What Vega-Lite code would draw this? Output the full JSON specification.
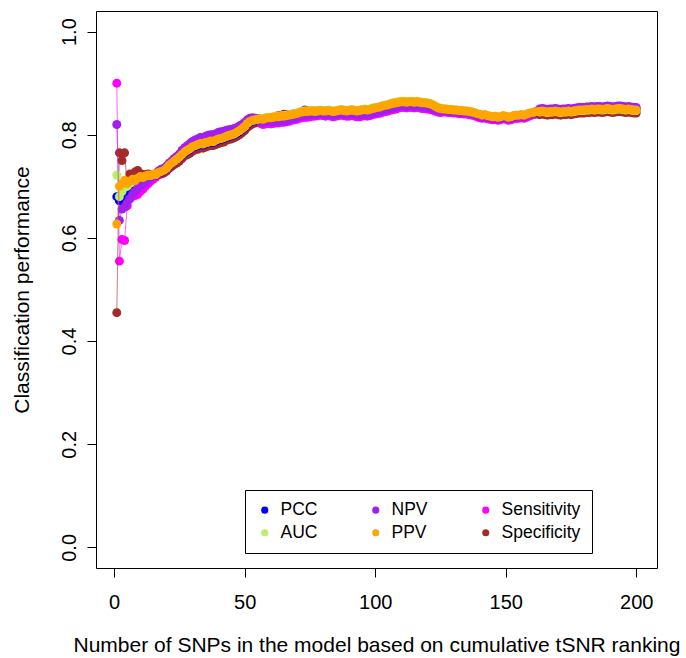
{
"$schema":"https://vega.github.io/schema/vega-lite/v6.json",
"width":561,"height":557,
"autosize":{"type":"none"},
"padding":{"left":96,"top":11,"right":29,"bottom":90},
"background":"white",
"config":{"view":{"stroke":"black","strokeWidth":1},"font":"Liberation Sans"},
"data":{"values":[
{"n":1,"PCC":0.680,"AUC":0.722,"NPV":0.820,"PPV":0.627,"Sensitivity":0.900,"Specificity":0.455},
{"n":2,"PCC":0.672,"AUC":0.680,"NPV":0.634,"PPV":0.700,"Sensitivity":0.555,"Specificity":0.765},
{"n":3,"PCC":0.676,"AUC":0.690,"NPV":0.656,"PPV":0.705,"Sensitivity":0.597,"Specificity":0.750},
{"n":4,"PCC":0.690,"AUC":0.698,"NPV":0.660,"PPV":0.712,"Sensitivity":0.595,"Specificity":0.765},
{"n":5,"PCC":0.690,"AUC":0.700,"NPV":0.668,"PPV":0.706,"Sensitivity":0.662,"Specificity":0.700},
{"n":6,"PCC":0.700,"AUC":0.706,"NPV":0.676,"PPV":0.710,"Sensitivity":0.676,"Specificity":0.724},
{"n":7,"PCC":0.703,"AUC":0.708,"NPV":0.684,"PPV":0.714,"Sensitivity":0.680,"Specificity":0.720},
{"n":8,"PCC":0.706,"AUC":0.710,"NPV":0.690,"PPV":0.711,"Sensitivity":0.682,"Specificity":0.728},
{"n":9,"PCC":0.710,"AUC":0.713,"NPV":0.696,"PPV":0.716,"Sensitivity":0.684,"Specificity":0.731},
{"n":10,"PCC":0.712,"AUC":0.716,"NPV":0.701,"PPV":0.719,"Sensitivity":0.690,"Specificity":0.725},
{"n":11,"PCC":0.713,"AUC":0.716,"NPV":0.704,"PPV":0.717,"Sensitivity":0.694,"Specificity":0.722},
{"n":12,"PCC":0.716,"AUC":0.719,"NPV":0.708,"PPV":0.720,"Sensitivity":0.700,"Specificity":0.723},
{"n":13,"PCC":0.718,"AUC":0.720,"NPV":0.712,"PPV":0.722,"Sensitivity":0.705,"Specificity":0.724},
{"n":14,"PCC":0.719,"AUC":0.721,"NPV":0.716,"PPV":0.721,"Sensitivity":0.710,"Specificity":0.722},
{"n":15,"PCC":0.722,"AUC":0.723,"NPV":0.720,"PPV":0.724,"Sensitivity":0.714,"Specificity":0.722},
{"n":16,"PCC":0.722,"AUC":0.723,"NPV":0.724,"PPV":0.723,"Sensitivity":0.718,"Specificity":0.721},
{"n":17,"PCC":0.726,"AUC":0.727,"NPV":0.730,"PPV":0.727,"Sensitivity":0.723,"Specificity":0.723},
{"n":18,"PCC":0.728,"AUC":0.729,"NPV":0.733,"PPV":0.729,"Sensitivity":0.724,"Specificity":0.725},
{"n":19,"PCC":0.730,"AUC":0.732,"NPV":0.735,"PPV":0.731,"Sensitivity":0.726,"Specificity":0.726},
{"n":20,"PCC":0.734,"AUC":0.735,"NPV":0.739,"PPV":0.735,"Sensitivity":0.729,"Specificity":0.730},
{"n":21,"PCC":0.740,"AUC":0.741,"NPV":0.745,"PPV":0.741,"Sensitivity":0.735,"Specificity":0.735},
{"n":22,"PCC":0.744,"AUC":0.746,"NPV":0.749,"PPV":0.745,"Sensitivity":0.739,"Specificity":0.739},
{"n":23,"PCC":0.748,"AUC":0.749,"NPV":0.754,"PPV":0.749,"Sensitivity":0.743,"Specificity":0.742},
{"n":24,"PCC":0.752,"AUC":0.753,"NPV":0.758,"PPV":0.753,"Sensitivity":0.746,"Specificity":0.745},
{"n":25,"PCC":0.756,"AUC":0.757,"NPV":0.763,"PPV":0.757,"Sensitivity":0.750,"Specificity":0.749},
{"n":26,"PCC":0.760,"AUC":0.762,"NPV":0.770,"PPV":0.762,"Sensitivity":0.756,"Specificity":0.754},
{"n":27,"PCC":0.765,"AUC":0.767,"NPV":0.775,"PPV":0.767,"Sensitivity":0.761,"Specificity":0.759},
{"n":28,"PCC":0.768,"AUC":0.771,"NPV":0.779,"PPV":0.770,"Sensitivity":0.764,"Specificity":0.761},
{"n":29,"PCC":0.771,"AUC":0.773,"NPV":0.783,"PPV":0.773,"Sensitivity":0.768,"Specificity":0.764},
{"n":30,"PCC":0.775,"AUC":0.777,"NPV":0.787,"PPV":0.777,"Sensitivity":0.780,"Specificity":0.768},
{"n":31,"PCC":0.777,"AUC":0.779,"NPV":0.790,"PPV":0.779,"Sensitivity":0.783,"Specificity":0.771},
{"n":32,"PCC":0.779,"AUC":0.782,"NPV":0.792,"PPV":0.781,"Sensitivity":0.785,"Specificity":0.772},
{"n":33,"PCC":0.781,"AUC":0.783,"NPV":0.795,"PPV":0.783,"Sensitivity":0.787,"Specificity":0.775},
{"n":34,"PCC":0.780,"AUC":0.783,"NPV":0.794,"PPV":0.782,"Sensitivity":0.786,"Specificity":0.774},
{"n":35,"PCC":0.783,"AUC":0.785,"NPV":0.797,"PPV":0.785,"Sensitivity":0.789,"Specificity":0.776},
{"n":36,"PCC":0.784,"AUC":0.786,"NPV":0.799,"PPV":0.786,"Sensitivity":0.790,"Specificity":0.778},
{"n":37,"PCC":0.786,"AUC":0.788,"NPV":0.800,"PPV":0.788,"Sensitivity":0.792,"Specificity":0.779},
{"n":38,"PCC":0.785,"AUC":0.787,"NPV":0.800,"PPV":0.787,"Sensitivity":0.791,"Specificity":0.779},
{"n":39,"PCC":0.788,"AUC":0.790,"NPV":0.802,"PPV":0.790,"Sensitivity":0.794,"Specificity":0.781},
{"n":40,"PCC":0.790,"AUC":0.792,"NPV":0.805,"PPV":0.792,"Sensitivity":0.796,"Specificity":0.783},
{"n":41,"PCC":0.791,"AUC":0.793,"NPV":0.806,"PPV":0.793,"Sensitivity":0.797,"Specificity":0.785},
{"n":42,"PCC":0.793,"AUC":0.795,"NPV":0.807,"PPV":0.795,"Sensitivity":0.799,"Specificity":0.786},
{"n":43,"PCC":0.795,"AUC":0.797,"NPV":0.809,"PPV":0.797,"Sensitivity":0.801,"Specificity":0.789},
{"n":44,"PCC":0.797,"AUC":0.799,"NPV":0.810,"PPV":0.799,"Sensitivity":0.803,"Specificity":0.791},
{"n":45,"PCC":0.798,"AUC":0.800,"NPV":0.811,"PPV":0.800,"Sensitivity":0.804,"Specificity":0.792},
{"n":46,"PCC":0.800,"AUC":0.802,"NPV":0.812,"PPV":0.802,"Sensitivity":0.806,"Specificity":0.794},
{"n":47,"PCC":0.803,"AUC":0.805,"NPV":0.814,"PPV":0.805,"Sensitivity":0.809,"Specificity":0.797},
{"n":48,"PCC":0.806,"AUC":0.808,"NPV":0.817,"PPV":0.808,"Sensitivity":0.812,"Specificity":0.800},
{"n":49,"PCC":0.810,"AUC":0.812,"NPV":0.820,"PPV":0.812,"Sensitivity":0.815,"Specificity":0.804},
{"n":50,"PCC":0.814,"AUC":0.816,"NPV":0.824,"PPV":0.816,"Sensitivity":0.819,"Specificity":0.808},
{"n":51,"PCC":0.820,"AUC":0.822,"NPV":0.829,"PPV":0.822,"Sensitivity":0.824,"Specificity":0.814},
{"n":52,"PCC":0.824,"AUC":0.826,"NPV":0.832,"PPV":0.826,"Sensitivity":0.827,"Specificity":0.818},
{"n":53,"PCC":0.826,"AUC":0.828,"NPV":0.833,"PPV":0.828,"Sensitivity":0.829,"Specificity":0.821},
{"n":54,"PCC":0.827,"AUC":0.829,"NPV":0.832,"PPV":0.829,"Sensitivity":0.829,"Specificity":0.823},
{"n":55,"PCC":0.828,"AUC":0.830,"NPV":0.831,"PPV":0.830,"Sensitivity":0.829,"Specificity":0.826},
{"n":56,"PCC":0.830,"AUC":0.832,"NPV":0.826,"PPV":0.831,"Sensitivity":0.822,"Specificity":0.825},
{"n":57,"PCC":0.829,"AUC":0.831,"NPV":0.824,"PPV":0.830,"Sensitivity":0.820,"Specificity":0.826},
{"n":58,"PCC":0.831,"AUC":0.833,"NPV":0.825,"PPV":0.832,"Sensitivity":0.821,"Specificity":0.828},
{"n":59,"PCC":0.832,"AUC":0.834,"NPV":0.826,"PPV":0.833,"Sensitivity":0.822,"Specificity":0.831},
{"n":60,"PCC":0.832,"AUC":0.834,"NPV":0.825,"PPV":0.833,"Sensitivity":0.821,"Specificity":0.833},
{"n":61,"PCC":0.833,"AUC":0.835,"NPV":0.826,"PPV":0.834,"Sensitivity":0.822,"Specificity":0.834},
{"n":62,"PCC":0.834,"AUC":0.836,"NPV":0.827,"PPV":0.835,"Sensitivity":0.823,"Specificity":0.836},
{"n":63,"PCC":0.834,"AUC":0.836,"NPV":0.826,"PPV":0.835,"Sensitivity":0.823,"Specificity":0.837},
{"n":64,"PCC":0.835,"AUC":0.837,"NPV":0.827,"PPV":0.836,"Sensitivity":0.824,"Specificity":0.838},
{"n":65,"PCC":0.835,"AUC":0.837,"NPV":0.826,"PPV":0.836,"Sensitivity":0.824,"Specificity":0.840},
{"n":66,"PCC":0.836,"AUC":0.838,"NPV":0.828,"PPV":0.837,"Sensitivity":0.825,"Specificity":0.839},
{"n":67,"PCC":0.837,"AUC":0.839,"NPV":0.829,"PPV":0.838,"Sensitivity":0.826,"Specificity":0.839},
{"n":68,"PCC":0.838,"AUC":0.840,"NPV":0.831,"PPV":0.839,"Sensitivity":0.828,"Specificity":0.840},
{"n":69,"PCC":0.839,"AUC":0.841,"NPV":0.832,"PPV":0.840,"Sensitivity":0.829,"Specificity":0.841},
{"n":70,"PCC":0.840,"AUC":0.842,"NPV":0.834,"PPV":0.841,"Sensitivity":0.830,"Specificity":0.842},
{"n":71,"PCC":0.842,"AUC":0.844,"NPV":0.836,"PPV":0.843,"Sensitivity":0.832,"Specificity":0.843},
{"n":72,"PCC":0.843,"AUC":0.845,"NPV":0.837,"PPV":0.844,"Sensitivity":0.833,"Specificity":0.845},
{"n":73,"PCC":0.844,"AUC":0.846,"NPV":0.838,"PPV":0.845,"Sensitivity":0.834,"Specificity":0.848},
{"n":74,"PCC":0.844,"AUC":0.846,"NPV":0.838,"PPV":0.845,"Sensitivity":0.834,"Specificity":0.847},
{"n":75,"PCC":0.845,"AUC":0.847,"NPV":0.839,"PPV":0.846,"Sensitivity":0.835,"Specificity":0.846},
{"n":76,"PCC":0.845,"AUC":0.847,"NPV":0.839,"PPV":0.846,"Sensitivity":0.836,"Specificity":0.846},
{"n":77,"PCC":0.844,"AUC":0.846,"NPV":0.839,"PPV":0.845,"Sensitivity":0.836,"Specificity":0.846},
{"n":78,"PCC":0.845,"AUC":0.847,"NPV":0.840,"PPV":0.846,"Sensitivity":0.837,"Specificity":0.846},
{"n":79,"PCC":0.846,"AUC":0.848,"NPV":0.841,"PPV":0.847,"Sensitivity":0.838,"Specificity":0.847},
{"n":80,"PCC":0.845,"AUC":0.847,"NPV":0.840,"PPV":0.846,"Sensitivity":0.837,"Specificity":0.846},
{"n":81,"PCC":0.845,"AUC":0.847,"NPV":0.839,"PPV":0.846,"Sensitivity":0.836,"Specificity":0.846},
{"n":82,"PCC":0.846,"AUC":0.848,"NPV":0.840,"PPV":0.847,"Sensitivity":0.837,"Specificity":0.847},
{"n":83,"PCC":0.845,"AUC":0.847,"NPV":0.839,"PPV":0.846,"Sensitivity":0.836,"Specificity":0.846},
{"n":84,"PCC":0.844,"AUC":0.846,"NPV":0.838,"PPV":0.845,"Sensitivity":0.835,"Specificity":0.845},
{"n":85,"PCC":0.845,"AUC":0.847,"NPV":0.839,"PPV":0.846,"Sensitivity":0.836,"Specificity":0.846},
{"n":86,"PCC":0.846,"AUC":0.848,"NPV":0.840,"PPV":0.847,"Sensitivity":0.837,"Specificity":0.847},
{"n":87,"PCC":0.847,"AUC":0.849,"NPV":0.841,"PPV":0.848,"Sensitivity":0.838,"Specificity":0.848},
{"n":88,"PCC":0.846,"AUC":0.848,"NPV":0.840,"PPV":0.847,"Sensitivity":0.837,"Specificity":0.847},
{"n":89,"PCC":0.845,"AUC":0.847,"NPV":0.839,"PPV":0.846,"Sensitivity":0.836,"Specificity":0.846},
{"n":90,"PCC":0.846,"AUC":0.848,"NPV":0.840,"PPV":0.847,"Sensitivity":0.836,"Specificity":0.847},
{"n":91,"PCC":0.847,"AUC":0.849,"NPV":0.841,"PPV":0.848,"Sensitivity":0.837,"Specificity":0.848},
{"n":92,"PCC":0.846,"AUC":0.848,"NPV":0.840,"PPV":0.847,"Sensitivity":0.836,"Specificity":0.847},
{"n":93,"PCC":0.845,"AUC":0.847,"NPV":0.839,"PPV":0.846,"Sensitivity":0.835,"Specificity":0.846},
{"n":94,"PCC":0.846,"AUC":0.848,"NPV":0.838,"PPV":0.847,"Sensitivity":0.835,"Specificity":0.847},
{"n":95,"PCC":0.847,"AUC":0.849,"NPV":0.839,"PPV":0.848,"Sensitivity":0.836,"Specificity":0.848},
{"n":96,"PCC":0.848,"AUC":0.850,"NPV":0.840,"PPV":0.849,"Sensitivity":0.837,"Specificity":0.849},
{"n":97,"PCC":0.847,"AUC":0.849,"NPV":0.839,"PPV":0.848,"Sensitivity":0.836,"Specificity":0.848},
{"n":98,"PCC":0.848,"AUC":0.850,"NPV":0.840,"PPV":0.849,"Sensitivity":0.837,"Specificity":0.849},
{"n":99,"PCC":0.850,"AUC":0.852,"NPV":0.842,"PPV":0.851,"Sensitivity":0.839,"Specificity":0.851},
{"n":100,"PCC":0.851,"AUC":0.853,"NPV":0.843,"PPV":0.852,"Sensitivity":0.840,"Specificity":0.852},
{"n":101,"PCC":0.852,"AUC":0.854,"NPV":0.844,"PPV":0.853,"Sensitivity":0.841,"Specificity":0.853},
{"n":102,"PCC":0.853,"AUC":0.855,"NPV":0.845,"PPV":0.854,"Sensitivity":0.842,"Specificity":0.854},
{"n":103,"PCC":0.855,"AUC":0.857,"NPV":0.847,"PPV":0.856,"Sensitivity":0.844,"Specificity":0.856},
{"n":104,"PCC":0.856,"AUC":0.858,"NPV":0.848,"PPV":0.857,"Sensitivity":0.845,"Specificity":0.857},
{"n":105,"PCC":0.857,"AUC":0.859,"NPV":0.849,"PPV":0.858,"Sensitivity":0.846,"Specificity":0.858},
{"n":106,"PCC":0.859,"AUC":0.861,"NPV":0.851,"PPV":0.860,"Sensitivity":0.848,"Specificity":0.859},
{"n":107,"PCC":0.860,"AUC":0.862,"NPV":0.852,"PPV":0.861,"Sensitivity":0.849,"Specificity":0.860},
{"n":108,"PCC":0.861,"AUC":0.863,"NPV":0.853,"PPV":0.862,"Sensitivity":0.850,"Specificity":0.861},
{"n":109,"PCC":0.862,"AUC":0.864,"NPV":0.855,"PPV":0.863,"Sensitivity":0.852,"Specificity":0.861},
{"n":110,"PCC":0.863,"AUC":0.865,"NPV":0.856,"PPV":0.864,"Sensitivity":0.853,"Specificity":0.862},
{"n":111,"PCC":0.863,"AUC":0.865,"NPV":0.856,"PPV":0.864,"Sensitivity":0.853,"Specificity":0.862},
{"n":112,"PCC":0.862,"AUC":0.864,"NPV":0.855,"PPV":0.863,"Sensitivity":0.852,"Specificity":0.861},
{"n":113,"PCC":0.863,"AUC":0.865,"NPV":0.856,"PPV":0.864,"Sensitivity":0.853,"Specificity":0.862},
{"n":114,"PCC":0.863,"AUC":0.865,"NPV":0.856,"PPV":0.864,"Sensitivity":0.853,"Specificity":0.862},
{"n":115,"PCC":0.862,"AUC":0.864,"NPV":0.855,"PPV":0.863,"Sensitivity":0.852,"Specificity":0.861},
{"n":116,"PCC":0.863,"AUC":0.865,"NPV":0.856,"PPV":0.864,"Sensitivity":0.853,"Specificity":0.862},
{"n":117,"PCC":0.862,"AUC":0.864,"NPV":0.855,"PPV":0.863,"Sensitivity":0.852,"Specificity":0.861},
{"n":118,"PCC":0.861,"AUC":0.863,"NPV":0.854,"PPV":0.862,"Sensitivity":0.851,"Specificity":0.860},
{"n":119,"PCC":0.861,"AUC":0.863,"NPV":0.854,"PPV":0.862,"Sensitivity":0.851,"Specificity":0.860},
{"n":120,"PCC":0.860,"AUC":0.862,"NPV":0.853,"PPV":0.861,"Sensitivity":0.850,"Specificity":0.859},
{"n":121,"PCC":0.859,"AUC":0.861,"NPV":0.852,"PPV":0.860,"Sensitivity":0.849,"Specificity":0.858},
{"n":122,"PCC":0.857,"AUC":0.859,"NPV":0.851,"PPV":0.858,"Sensitivity":0.848,"Specificity":0.856},
{"n":123,"PCC":0.854,"AUC":0.856,"NPV":0.849,"PPV":0.855,"Sensitivity":0.846,"Specificity":0.853},
{"n":124,"PCC":0.851,"AUC":0.853,"NPV":0.847,"PPV":0.852,"Sensitivity":0.844,"Specificity":0.850},
{"n":125,"PCC":0.850,"AUC":0.852,"NPV":0.846,"PPV":0.851,"Sensitivity":0.843,"Specificity":0.848},
{"n":126,"PCC":0.849,"AUC":0.850,"NPV":0.847,"PPV":0.850,"Sensitivity":0.844,"Specificity":0.847},
{"n":127,"PCC":0.849,"AUC":0.850,"NPV":0.847,"PPV":0.850,"Sensitivity":0.844,"Specificity":0.847},
{"n":128,"PCC":0.848,"AUC":0.849,"NPV":0.846,"PPV":0.849,"Sensitivity":0.843,"Specificity":0.846},
{"n":129,"PCC":0.848,"AUC":0.849,"NPV":0.846,"PPV":0.849,"Sensitivity":0.843,"Specificity":0.846},
{"n":130,"PCC":0.847,"AUC":0.848,"NPV":0.845,"PPV":0.848,"Sensitivity":0.842,"Specificity":0.845},
{"n":131,"PCC":0.847,"AUC":0.848,"NPV":0.845,"PPV":0.848,"Sensitivity":0.842,"Specificity":0.845},
{"n":132,"PCC":0.846,"AUC":0.847,"NPV":0.844,"PPV":0.847,"Sensitivity":0.841,"Specificity":0.844},
{"n":133,"PCC":0.846,"AUC":0.847,"NPV":0.844,"PPV":0.847,"Sensitivity":0.841,"Specificity":0.844},
{"n":134,"PCC":0.845,"AUC":0.846,"NPV":0.843,"PPV":0.846,"Sensitivity":0.840,"Specificity":0.843},
{"n":135,"PCC":0.845,"AUC":0.846,"NPV":0.843,"PPV":0.846,"Sensitivity":0.840,"Specificity":0.843},
{"n":136,"PCC":0.844,"AUC":0.845,"NPV":0.842,"PPV":0.845,"Sensitivity":0.839,"Specificity":0.842},
{"n":137,"PCC":0.843,"AUC":0.844,"NPV":0.841,"PPV":0.844,"Sensitivity":0.838,"Specificity":0.841},
{"n":138,"PCC":0.842,"AUC":0.843,"NPV":0.840,"PPV":0.843,"Sensitivity":0.837,"Specificity":0.840},
{"n":139,"PCC":0.840,"AUC":0.841,"NPV":0.838,"PPV":0.841,"Sensitivity":0.835,"Specificity":0.838},
{"n":140,"PCC":0.839,"AUC":0.840,"NPV":0.837,"PPV":0.840,"Sensitivity":0.833,"Specificity":0.837},
{"n":141,"PCC":0.837,"AUC":0.838,"NPV":0.835,"PPV":0.838,"Sensitivity":0.832,"Specificity":0.835},
{"n":142,"PCC":0.838,"AUC":0.839,"NPV":0.834,"PPV":0.839,"Sensitivity":0.833,"Specificity":0.836},
{"n":143,"PCC":0.836,"AUC":0.837,"NPV":0.834,"PPV":0.837,"Sensitivity":0.831,"Specificity":0.834},
{"n":144,"PCC":0.835,"AUC":0.836,"NPV":0.833,"PPV":0.836,"Sensitivity":0.830,"Specificity":0.833},
{"n":145,"PCC":0.834,"AUC":0.835,"NPV":0.832,"PPV":0.835,"Sensitivity":0.829,"Specificity":0.832},
{"n":146,"PCC":0.835,"AUC":0.836,"NPV":0.833,"PPV":0.836,"Sensitivity":0.830,"Specificity":0.833},
{"n":147,"PCC":0.833,"AUC":0.834,"NPV":0.831,"PPV":0.834,"Sensitivity":0.828,"Specificity":0.831},
{"n":148,"PCC":0.834,"AUC":0.835,"NPV":0.832,"PPV":0.835,"Sensitivity":0.829,"Specificity":0.832},
{"n":149,"PCC":0.836,"AUC":0.837,"NPV":0.834,"PPV":0.837,"Sensitivity":0.831,"Specificity":0.834},
{"n":150,"PCC":0.835,"AUC":0.836,"NPV":0.833,"PPV":0.836,"Sensitivity":0.830,"Specificity":0.833},
{"n":151,"PCC":0.833,"AUC":0.834,"NPV":0.831,"PPV":0.834,"Sensitivity":0.828,"Specificity":0.831},
{"n":152,"PCC":0.834,"AUC":0.835,"NPV":0.832,"PPV":0.835,"Sensitivity":0.829,"Specificity":0.832},
{"n":153,"PCC":0.836,"AUC":0.837,"NPV":0.834,"PPV":0.837,"Sensitivity":0.831,"Specificity":0.834},
{"n":154,"PCC":0.837,"AUC":0.838,"NPV":0.835,"PPV":0.838,"Sensitivity":0.832,"Specificity":0.835},
{"n":155,"PCC":0.837,"AUC":0.838,"NPV":0.835,"PPV":0.838,"Sensitivity":0.832,"Specificity":0.835},
{"n":156,"PCC":0.838,"AUC":0.839,"NPV":0.836,"PPV":0.839,"Sensitivity":0.833,"Specificity":0.836},
{"n":157,"PCC":0.837,"AUC":0.838,"NPV":0.835,"PPV":0.838,"Sensitivity":0.832,"Specificity":0.835},
{"n":158,"PCC":0.839,"AUC":0.840,"NPV":0.837,"PPV":0.840,"Sensitivity":0.834,"Specificity":0.837},
{"n":159,"PCC":0.841,"AUC":0.842,"NPV":0.839,"PPV":0.842,"Sensitivity":0.836,"Specificity":0.839},
{"n":160,"PCC":0.842,"AUC":0.843,"NPV":0.840,"PPV":0.843,"Sensitivity":0.838,"Specificity":0.840},
{"n":161,"PCC":0.843,"AUC":0.844,"NPV":0.843,"PPV":0.844,"Sensitivity":0.840,"Specificity":0.840},
{"n":162,"PCC":0.844,"AUC":0.845,"NPV":0.846,"PPV":0.845,"Sensitivity":0.842,"Specificity":0.840},
{"n":163,"PCC":0.845,"AUC":0.844,"NPV":0.850,"PPV":0.845,"Sensitivity":0.846,"Specificity":0.839},
{"n":164,"PCC":0.846,"AUC":0.845,"NPV":0.851,"PPV":0.846,"Sensitivity":0.847,"Specificity":0.840},
{"n":165,"PCC":0.845,"AUC":0.844,"NPV":0.850,"PPV":0.845,"Sensitivity":0.846,"Specificity":0.839},
{"n":166,"PCC":0.844,"AUC":0.843,"NPV":0.849,"PPV":0.844,"Sensitivity":0.845,"Specificity":0.838},
{"n":167,"PCC":0.845,"AUC":0.844,"NPV":0.850,"PPV":0.845,"Sensitivity":0.846,"Specificity":0.839},
{"n":168,"PCC":0.845,"AUC":0.844,"NPV":0.850,"PPV":0.845,"Sensitivity":0.846,"Specificity":0.839},
{"n":169,"PCC":0.846,"AUC":0.845,"NPV":0.851,"PPV":0.846,"Sensitivity":0.847,"Specificity":0.840},
{"n":170,"PCC":0.845,"AUC":0.844,"NPV":0.850,"PPV":0.845,"Sensitivity":0.846,"Specificity":0.839},
{"n":171,"PCC":0.844,"AUC":0.843,"NPV":0.849,"PPV":0.844,"Sensitivity":0.845,"Specificity":0.838},
{"n":172,"PCC":0.845,"AUC":0.844,"NPV":0.850,"PPV":0.845,"Sensitivity":0.846,"Specificity":0.839},
{"n":173,"PCC":0.845,"AUC":0.844,"NPV":0.850,"PPV":0.845,"Sensitivity":0.846,"Specificity":0.839},
{"n":174,"PCC":0.846,"AUC":0.845,"NPV":0.851,"PPV":0.846,"Sensitivity":0.847,"Specificity":0.840},
{"n":175,"PCC":0.845,"AUC":0.844,"NPV":0.850,"PPV":0.845,"Sensitivity":0.846,"Specificity":0.839},
{"n":176,"PCC":0.846,"AUC":0.845,"NPV":0.851,"PPV":0.846,"Sensitivity":0.847,"Specificity":0.840},
{"n":177,"PCC":0.847,"AUC":0.846,"NPV":0.852,"PPV":0.847,"Sensitivity":0.848,"Specificity":0.841},
{"n":178,"PCC":0.848,"AUC":0.847,"NPV":0.853,"PPV":0.848,"Sensitivity":0.849,"Specificity":0.842},
{"n":179,"PCC":0.848,"AUC":0.847,"NPV":0.853,"PPV":0.848,"Sensitivity":0.849,"Specificity":0.842},
{"n":180,"PCC":0.848,"AUC":0.847,"NPV":0.853,"PPV":0.848,"Sensitivity":0.849,"Specificity":0.842},
{"n":181,"PCC":0.849,"AUC":0.848,"NPV":0.854,"PPV":0.849,"Sensitivity":0.850,"Specificity":0.843},
{"n":182,"PCC":0.849,"AUC":0.848,"NPV":0.854,"PPV":0.849,"Sensitivity":0.850,"Specificity":0.843},
{"n":183,"PCC":0.850,"AUC":0.849,"NPV":0.855,"PPV":0.850,"Sensitivity":0.851,"Specificity":0.844},
{"n":184,"PCC":0.849,"AUC":0.848,"NPV":0.854,"PPV":0.849,"Sensitivity":0.850,"Specificity":0.843},
{"n":185,"PCC":0.850,"AUC":0.849,"NPV":0.855,"PPV":0.850,"Sensitivity":0.851,"Specificity":0.844},
{"n":186,"PCC":0.850,"AUC":0.849,"NPV":0.855,"PPV":0.850,"Sensitivity":0.851,"Specificity":0.844},
{"n":187,"PCC":0.849,"AUC":0.848,"NPV":0.854,"PPV":0.849,"Sensitivity":0.850,"Specificity":0.843},
{"n":188,"PCC":0.850,"AUC":0.849,"NPV":0.855,"PPV":0.850,"Sensitivity":0.851,"Specificity":0.844},
{"n":189,"PCC":0.851,"AUC":0.850,"NPV":0.856,"PPV":0.851,"Sensitivity":0.852,"Specificity":0.845},
{"n":190,"PCC":0.850,"AUC":0.849,"NPV":0.855,"PPV":0.850,"Sensitivity":0.851,"Specificity":0.844},
{"n":191,"PCC":0.849,"AUC":0.848,"NPV":0.854,"PPV":0.849,"Sensitivity":0.850,"Specificity":0.843},
{"n":192,"PCC":0.850,"AUC":0.849,"NPV":0.855,"PPV":0.850,"Sensitivity":0.851,"Specificity":0.844},
{"n":193,"PCC":0.851,"AUC":0.850,"NPV":0.856,"PPV":0.851,"Sensitivity":0.852,"Specificity":0.845},
{"n":194,"PCC":0.851,"AUC":0.850,"NPV":0.856,"PPV":0.851,"Sensitivity":0.852,"Specificity":0.845},
{"n":195,"PCC":0.850,"AUC":0.849,"NPV":0.855,"PPV":0.850,"Sensitivity":0.851,"Specificity":0.844},
{"n":196,"PCC":0.849,"AUC":0.848,"NPV":0.854,"PPV":0.849,"Sensitivity":0.850,"Specificity":0.843},
{"n":197,"PCC":0.850,"AUC":0.849,"NPV":0.855,"PPV":0.850,"Sensitivity":0.851,"Specificity":0.844},
{"n":198,"PCC":0.849,"AUC":0.848,"NPV":0.854,"PPV":0.849,"Sensitivity":0.850,"Specificity":0.843},
{"n":199,"PCC":0.848,"AUC":0.847,"NPV":0.853,"PPV":0.848,"Sensitivity":0.849,"Specificity":0.842},
{"n":200,"PCC":0.848,"AUC":0.847,"NPV":0.853,"PPV":0.848,"Sensitivity":0.849,"Specificity":0.842}
]},
"transform":[{"fold":["PCC","AUC","NPV","PPV","Sensitivity","Specificity"],"as":["key","value"]}],
"encoding":{
"x":{"field":"n","type":"quantitative","scale":{"domain":[-6.96,207.96],"nice":false,"zero":false},
"axis":{"values":[0,50,100,150,200],"title":"Number of SNPs in the model based on cumulative tSNR ranking","domain":false,"grid":false,"tickSize":9,"tickColor":"black","tickWidth":1,"labelFontSize":20,"labelColor":"black","labelPadding":15,"labelFont":"Liberation Sans","titleFont":"Liberation Sans","titleFontSize":21,"titleFontWeight":"normal","titleColor":"black","titlePadding":22,"labelFlush":false,"labelOverlap":false}},
"y":{"field":"value","type":"quantitative","scale":{"domain":[-0.04,1.04],"nice":false,"zero":false},
"axis":{"values":[0,0.2,0.4,0.6,0.8,1],"format":".1f","title":"Classification performance","domain":false,"grid":false,"tickSize":9,"tickColor":"black","tickWidth":1,"labelAngle":270,"labelAlign":"center","labelBaseline":"bottom","labelFontSize":20,"labelColor":"black","labelPadding":8,"labelFont":"Liberation Sans","titleFont":"Liberation Sans","titleFontSize":21,"titleFontWeight":"normal","titleColor":"black","titlePadding":27,"labelFlush":false,"labelOverlap":false}},
"color":{"field":"key","type":"nominal",
"scale":{"domain":["PCC","NPV","Sensitivity","AUC","PPV","Specificity"],"range":["#0000FF","#A020F0","#FF00FF","#BCEE68","#FFA500","#A52A2A"]},
"legend":{"title":null,"orient":"none","legendX":149,"legendY":479,"columns":3,"direction":"horizontal","strokeColor":"black","fillColor":"white","padding":11,"cornerRadius":0,"symbolType":"circle","symbolSize":50,"symbolStrokeWidth":0,"symbolOpacity":1,"labelFontSize":17.5,"labelColor":"black","labelFont":"Liberation Sans","columnPadding":49,"rowPadding":4,"labelOffset":7}}
},
"layer":[
{"transform":[{"filter":{"field":"key","equal":"Sensitivity"}}],"layer":[{"mark":{"type":"line","strokeWidth":1,"strokeOpacity":0.6}},{"mark":{"type":"point","filled":true,"size":80,"opacity":1}}]},
{"transform":[{"filter":{"field":"key","equal":"Specificity"}}],"layer":[{"mark":{"type":"line","strokeWidth":1,"strokeOpacity":0.6}},{"mark":{"type":"point","filled":true,"size":80,"opacity":1}}]},
{"transform":[{"filter":{"field":"key","equal":"PCC"}}],"layer":[{"mark":{"type":"line","strokeWidth":1,"strokeOpacity":0.6}},{"mark":{"type":"point","filled":true,"size":80,"opacity":1}}]},
{"transform":[{"filter":{"field":"key","equal":"AUC"}}],"layer":[{"mark":{"type":"line","strokeWidth":1,"strokeOpacity":0.6}},{"mark":{"type":"point","filled":true,"size":80,"opacity":1}}]},
{"transform":[{"filter":{"field":"key","equal":"NPV"}}],"layer":[{"mark":{"type":"line","strokeWidth":1,"strokeOpacity":0.6}},{"mark":{"type":"point","filled":true,"size":80,"opacity":1}}]},
{"transform":[{"filter":{"field":"key","equal":"PPV"}}],"layer":[{"mark":{"type":"line","strokeWidth":1,"strokeOpacity":0.6}},{"mark":{"type":"point","filled":true,"size":80,"opacity":1}}]}
]
}
